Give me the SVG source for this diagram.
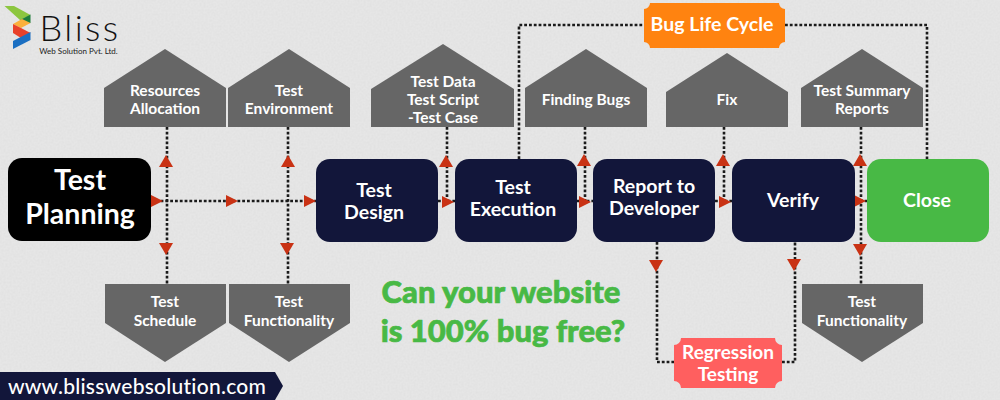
<svg xmlns="http://www.w3.org/2000/svg" xmlns:xlink="http://www.w3.org/1999/xlink" width="1000" height="400" viewBox="0 0 1000 400">
<style>
text{font-family:"Lato","Liberation Sans",sans-serif;fill:#fff;text-anchor:middle;font-weight:700}
.h{fill:#666}
.navy{fill:#12163a}
.s{font-size:15.5px}
.m{font-size:19.5px}
.dot{fill:none;stroke:#1a1a1a;stroke-width:2.6;stroke-dasharray:2.8 2}
.ar{fill:#c93214}
</style>
<defs>
<filter id="grain" x="0" y="0" width="100%" height="100%"><feTurbulence type="fractalNoise" baseFrequency="0.5" numOctaves="3" seed="4"/><feColorMatrix values="0 0 0 0 0  0 0 0 0 0  0 0 0 0 0  0.35 0 0 0 -0.1"/></filter>
<polygon id="up" class="ar" points="0,-6 7,6 -7,6"/>
<polygon id="dn" class="ar" points="-7,-6 7,-6 0,6"/>
<polygon id="rt" class="ar" points="-6,-6 6,0 -6,6"/>
</defs>
<rect id="background" width="1000" height="400" fill="#e6e6e6"/>
<rect width="1000" height="400" filter="url(#grain)" opacity=".1"/>

<g id="connectors">
<path class="dot" d="M167 127V284"/>
<path class="dot" d="M288 127V284"/>
<path class="dot" d="M151 201H316"/>
<path class="dot" d="M447 127V200"/>
<path class="dot" d="M585 127V200"/>
<path class="dot" d="M724 127V200"/>
<path class="dot" d="M861 127V284"/>
<path class="dot" d="M519 159V25H644"/>
<path class="dot" d="M785 25H927V159"/>
<path class="dot" d="M657 242V362H674"/>
<path class="dot" d="M782 362H795V242"/>
<path class="dot" d="M438 201H455M577 201H593M715 201H732M855 201H867"/>
<use href="#rt" x="157" y="201"/><use href="#rt" x="232" y="201"/><use href="#rt" x="310" y="201"/>
<use href="#rt" x="448" y="202"/><use href="#rt" x="585" y="202"/><use href="#rt" x="725" y="202"/><use href="#rt" x="860" y="201"/>
<use href="#up" x="166" y="161"/><use href="#up" x="288" y="161"/><use href="#up" x="446" y="161"/><use href="#up" x="584" y="160"/><use href="#up" x="723" y="160"/><use href="#up" x="860" y="160"/>
<use href="#dn" x="166" y="249"/><use href="#dn" x="287" y="249"/><use href="#dn" x="656" y="266"/><use href="#dn" x="794" y="265"/><use href="#dn" x="860" y="250"/>
</g>

<g id="logo">
<polygon points="4.500,6 14,6 30.500,15 20,20" fill="#8cc63f"/>
<polygon points="30.500,14.500 30.500,23 22,23 20,20" fill="#1e7d3c"/>
<polygon points="13,24 22,19 30.500,23 21,28" fill="#fbb03b"/>
<polygon points="13,24 21,28 30.500,33 21,38 13,33" fill="#e8412a"/>
<polygon points="13,41 30.500,32 30.500,40 13,49" fill="#1b6fc2"/>
<text x="80" y="41" style="font-size:36px;font-weight:300;letter-spacing:2.400px;fill:#111">Bliss</text>
<text x="78.500" y="54" style="font-size:8px;font-weight:400;fill:#222">Web Solution Pvt. Ltd.</text>
</g>

<g id="test-planning"><rect x="8" y="158" width="143" height="83" rx="14" fill="#000"/><text x="80" y="190" style="font-size:28.500px">Test</text><text x="80" y="224" style="font-size:28.500px">Planning</text></g>
<g id="test-design"><rect class="navy" x="316" y="159" width="122" height="83" rx="14"/><text class="m" x="374" y="197">Test</text><text class="m" x="374" y="219">Design</text></g>
<g id="test-execution"><rect class="navy" x="455" y="159" width="122" height="83" rx="14"/><text class="m" x="513" y="194">Test</text><text class="m" x="513" y="216">Execution</text></g>
<g id="report-to-developer"><rect class="navy" x="593" y="159" width="122" height="83" rx="14"/><text class="m" x="654" y="193">Report to</text><text class="m" x="654" y="215">Developer</text></g>
<g id="verify"><rect class="navy" x="732" y="159" width="123" height="83" rx="14"/><text class="m" x="793" y="207">Verify</text></g>
<g id="close"><rect x="867" y="159" width="122" height="83" rx="14" fill="#48b945"/><text class="m" x="927" y="207">Close</text></g>

<g id="resources-allocation"><polygon class="h" points="104,127 104,88 165,49 226,88 226,127"/><text class="s" x="165" y="96">Resources</text><text class="s" x="165" y="114">Allocation</text></g>
<g id="test-environment"><polygon class="h" points="228,127 228,88 289,49 350,88 350,127"/><text class="s" x="289" y="96">Test</text><text class="s" x="289" y="114">Environment</text></g>
<g id="test-data"><polygon class="h" points="371,127 371,89 443,44 514,89 514,127"/><text class="s" x="443" y="87">Test Data</text><text class="s" x="443" y="105">Test Script</text><text class="s" x="443" y="123">-Test Case</text></g>
<g id="finding-bugs"><polygon class="h" points="525,127 525,88 586,49 647,88 647,127"/><text class="s" x="586" y="105">Finding Bugs</text></g>
<g id="fix"><polygon class="h" points="666,127 666,92 727,53 788,92 788,127"/><text class="s" x="727" y="105">Fix</text></g>
<g id="test-summary-reports"><polygon class="h" points="801,127 801,88 862,49 923,88 923,127"/><text class="s" x="862" y="96">Test Summary</text><text class="s" x="862" y="114">Reports</text></g>

<g id="test-schedule"><polygon class="h" points="105,284 226,284 226,323 165,362 105,323"/><text class="s" x="165" y="307">Test</text><text class="s" x="165" y="326">Schedule</text></g>
<g id="test-functionality-1"><polygon class="h" points="229,284 350,284 350,323 289,362 229,323"/><text class="s" x="289" y="307">Test</text><text class="s" x="289" y="326">Functionality</text></g>
<g id="test-functionality-2"><polygon class="h" points="802,284 923,284 923,323 862,362 802,323"/><text class="s" x="862" y="307">Test</text><text class="s" x="862" y="326">Functionality</text></g>

<g id="bug-life-cycle"><path fill="#ff8310" d="M650 3H779A6 6 0 0 0 785 9V42A6 6 0 0 0 779 48H650A6 6 0 0 0 644 42V9A6 6 0 0 0 650 3Z"/><text x="712" y="31" style="font-size:19.500px">Bug Life Cycle</text></g>
<g id="regression-testing"><path fill="#ff5f5f" d="M681 338H775A7 7 0 0 0 782 345V381A7 7 0 0 0 775 388H681A7 7 0 0 0 674 381V345A7 7 0 0 0 681 338Z"/><text x="728" y="359" style="font-size:19px">Regression</text><text x="728" y="381" style="font-size:19px">Testing</text></g>

<g id="headline" style="stroke:#48b945;stroke-width:.7px"><text x="501" y="303" style="font-size:31px;font-weight:900;fill:#48b945">Can your website</text><text x="503" y="342" style="font-size:31px;font-weight:900;fill:#48b945">is 100% bug free?</text></g>

<g id="footer"><polygon class="navy" points="0,372 275,372 283,386 275,400 0,400"/><text x="137" y="394" style="font-size:21px;font-weight:500;letter-spacing:.25px">www.blisswebsolution.com</text></g>
</svg>
